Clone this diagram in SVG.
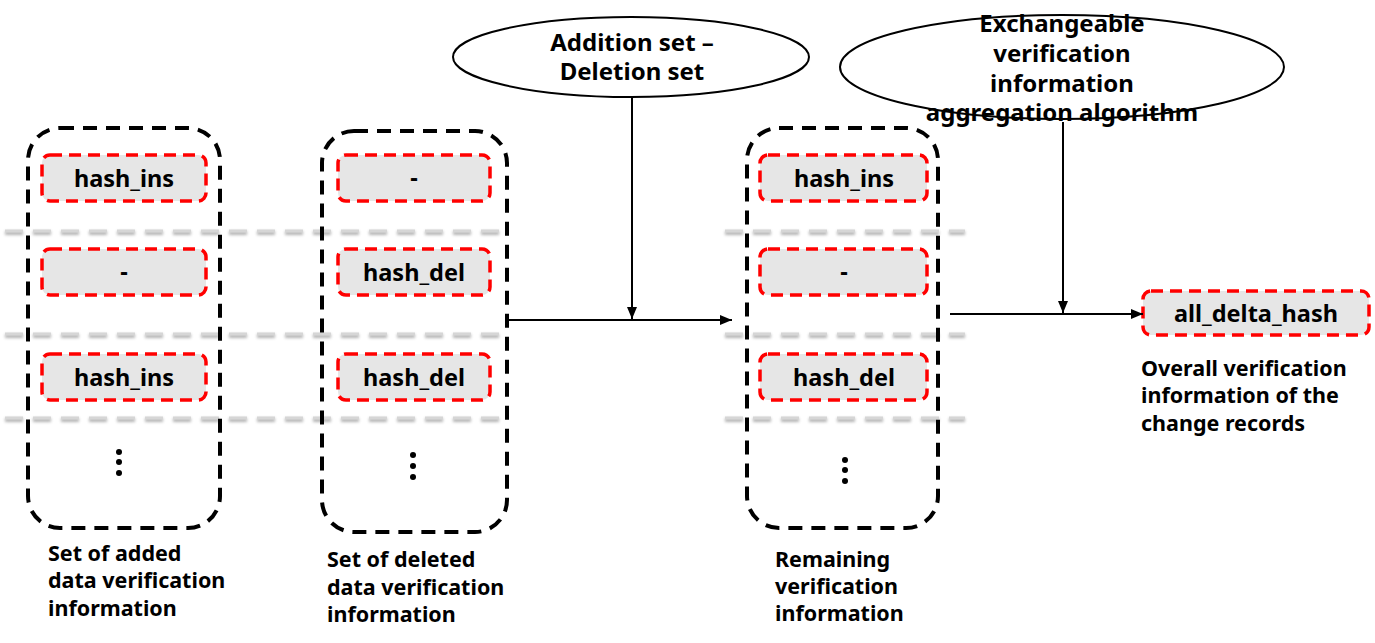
<svg xmlns="http://www.w3.org/2000/svg" width="1375" height="643" viewBox="0 0 1375 643">
<style>
text{font-family:"Noto Sans","Open Sans","DejaVu Sans",sans-serif;font-weight:bold;fill:#000}
.outer{fill:none;stroke:#000;stroke-width:4;stroke-dasharray:14 9}
.cell{fill:#e6e6e6;stroke:#f00;stroke-width:3.5;stroke-dasharray:12 7}
.ct{font-size:23.5px;text-anchor:middle}
.lbl{font-size:21.5px}
.el{fill:#fff;stroke:#000;stroke-width:2}
.et{font-size:24px;text-anchor:middle}
.sep{stroke:#d6d6d6;stroke-width:3;stroke-dasharray:18 10;fill:none}
.sepsh{stroke:#b4b4b4;stroke-width:4;stroke-dasharray:18 10;fill:none;filter:url(#blur)}
.conn{stroke:#000;stroke-width:2;fill:none}
</style>
<defs>
<filter id="blur" x="-5%" y="-200%" width="110%" height="500%"><feGaussianBlur stdDeviation="1.5"/></filter>
<marker id="ah" markerWidth="12" markerHeight="10" refX="12" refY="5" orient="auto" markerUnits="userSpaceOnUse"><path d="M0,0 L12,5 L0,10 Z" fill="#000"/></marker>
</defs>
<g id="separators">
<path class="sepsh" d="M5,233 H500 M5,336 H500 M5,420 H500 M725,233 H965 M725,336 H965 M725,420 H965"/>
<path class="sep" d="M5,231 H500 M5,334 H500 M5,418 H500 M725,231 H965 M725,334 H965 M725,418 H965"/>
</g>
<g id="added-set">
<rect class="outer" x="28" y="128" width="192" height="400" rx="32"/>
<rect class="cell" x="42" y="155" width="164" height="46" rx="8"/>
<text class="ct" x="124" y="187">hash_ins</text>
<rect class="cell" x="42" y="249" width="164" height="46" rx="8"/>
<text class="ct" x="124" y="280">-</text>
<rect class="cell" x="42" y="354" width="164" height="46" rx="8"/>
<text class="ct" x="124" y="386">hash_ins</text>
<circle cx="119" cy="452" r="3"/><circle cx="119" cy="462" r="3"/><circle cx="119" cy="473" r="3"/>
<text class="lbl" x="48" y="561">Set of added</text>
<text class="lbl" x="48" y="588">data verification</text>
<text class="lbl" x="48" y="616">information</text>
</g>
<g id="deleted-set">
<rect class="outer" x="322" y="131" width="185" height="401" rx="32"/>
<rect class="cell" x="338" y="155" width="152" height="46" rx="8"/>
<text class="ct" x="414" y="186">-</text>
<rect class="cell" x="338" y="249" width="152" height="46" rx="8"/>
<text class="ct" x="414" y="281">hash_del</text>
<rect class="cell" x="338" y="354" width="152" height="46" rx="8"/>
<text class="ct" x="414" y="386">hash_del</text>
<circle cx="413" cy="455" r="3"/><circle cx="413" cy="466" r="3"/><circle cx="413" cy="477" r="3"/>
<text class="lbl" x="327" y="567">Set of deleted</text>
<text class="lbl" x="327" y="595">data verification</text>
<text class="lbl" x="327" y="622">information</text>
</g>
<g id="remaining-set">
<rect class="outer" x="747" y="128" width="191" height="400" rx="32"/>
<rect class="cell" x="760" y="155" width="167" height="46" rx="8"/>
<text class="ct" x="844" y="187">hash_ins</text>
<rect class="cell" x="760" y="249" width="167" height="46" rx="8"/>
<text class="ct" x="844" y="280">-</text>
<rect class="cell" x="760" y="354" width="167" height="46" rx="8"/>
<text class="ct" x="844" y="386">hash_del</text>
<circle cx="845" cy="460" r="3"/><circle cx="845" cy="470" r="3"/><circle cx="845" cy="481" r="3"/>
<text class="lbl" x="775" y="567">Remaining</text>
<text class="lbl" x="775" y="594">verification</text>
<text class="lbl" x="775" y="621">information</text>
</g>
<g id="op-subtract">
<ellipse class="el" cx="631" cy="57" rx="178" ry="40"/>
<text class="et" x="632" y="51">Addition set –</text>
<text class="et" x="632" y="80">Deletion set</text>
</g>
<g id="op-aggregate">
<ellipse class="el" cx="1062" cy="67" rx="222" ry="52"/>
<text class="et" x="1062" y="32">Exchangeable</text>
<text class="et" x="1062" y="62">verification</text>
<text class="et" x="1062" y="92">information</text>
<text class="et" x="1062" y="121">aggregation algorithm</text>
</g>
<g id="result">
<rect class="cell" x="1143" y="291" width="226" height="44" rx="8"/>
<text class="ct" x="1256" y="322">all_delta_hash</text>
<text class="lbl" x="1141" y="376">Overall verification</text>
<text class="lbl" x="1141" y="403">information of the</text>
<text class="lbl" x="1141" y="431">change records</text>
</g>
<g id="connectors">
<path class="conn" d="M507,320 H732" marker-end="url(#ah)"/>
<path class="conn" d="M632,97 V319" marker-end="url(#ah)"/>
<path class="conn" d="M950,314 H1143" marker-end="url(#ah)"/>
<path class="conn" d="M1063,122 V313" marker-end="url(#ah)"/>
</g>
</svg>
